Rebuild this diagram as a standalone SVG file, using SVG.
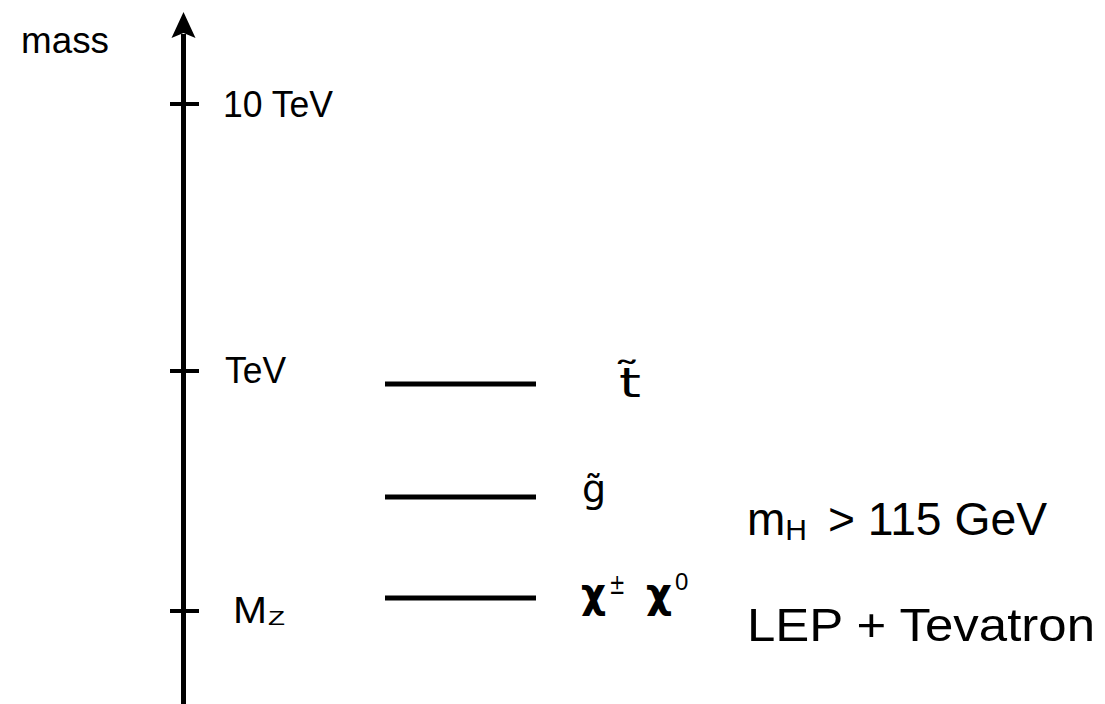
<svg xmlns="http://www.w3.org/2000/svg" width="1105" height="704" viewBox="0 0 1105 704">
<style>
text { font-family: "Liberation Sans", "DejaVu Sans", sans-serif; fill: #000; }
.axis { stroke: #000; stroke-width: 5; fill: none; }
.tick { stroke: #000; stroke-width: 4; }
.level { stroke: #000; stroke-width: 5; }
.lbl { font-size: 36px; }
.big { font-size: 46px; }
.greek { font-family: "DejaVu Sans", sans-serif; }
</style>
<rect width="1105" height="704" fill="#fff"/>
<g id="axis">
  <line class="axis" x1="183.5" y1="34" x2="183.5" y2="704"/>
  <polygon points="183.5,12 171.5,38 183.5,33 195.5,38" fill="#000"/>
  <text class="lbl" x="21" y="53" textLength="88" lengthAdjust="spacingAndGlyphs">mass</text>
</g>
<g id="tick-10TeV">
  <line class="tick" x1="170" y1="104" x2="199" y2="104"/>
  <text class="lbl" x="223" y="117" textLength="110" lengthAdjust="spacingAndGlyphs">10 TeV</text>
</g>
<g id="tick-TeV">
  <line class="tick" x1="170" y1="371" x2="199" y2="371"/>
  <text class="lbl" x="225" y="383" textLength="61" lengthAdjust="spacingAndGlyphs">TeV</text>
</g>
<g id="tick-MZ">
  <line class="tick" x1="170" y1="611" x2="199" y2="611"/>
  <text class="lbl" x="233" y="623" textLength="34" lengthAdjust="spacingAndGlyphs">M</text>
  <text x="268" y="625" font-size="20" textLength="17" lengthAdjust="spacingAndGlyphs">Z</text>
</g>
<g id="level-stop">
  <line class="level" x1="385" y1="384" x2="536" y2="384"/>
  <text class="greek" font-size="40" transform="translate(619,397) scale(1.4,1)">t̃</text>
</g>
<g id="level-gluino">
  <line class="level" x1="385" y1="497" x2="536" y2="497"/>
  <text class="greek" x="582" y="502" font-size="38">g̃</text>
</g>
<g id="level-chi">
  <line class="level" x1="385" y1="598" x2="536" y2="598"/>
  <text class="greek" x="581" y="607" font-size="40" font-weight="bold" textLength="25" lengthAdjust="spacingAndGlyphs">χ</text>
  <text class="greek" font-size="28" transform="translate(609,594) scale(0.7,1)">±</text>
  <text class="greek" x="646" y="607" font-size="40" font-weight="bold" textLength="26" lengthAdjust="spacingAndGlyphs">χ</text>
  <text x="675" y="590" font-size="24">0</text>
</g>
<g id="higgs-bound">
  <text class="big" x="747" y="535">m<tspan font-size="30" dy="5">H</tspan></text>
  <text class="big" x="828" y="535" textLength="219" lengthAdjust="spacingAndGlyphs">&gt; 115 GeV</text>
</g>
<g id="experiments">
  <text class="big" x="747" y="641" textLength="348" lengthAdjust="spacingAndGlyphs">LEP + Tevatron</text>
</g>
</svg>
